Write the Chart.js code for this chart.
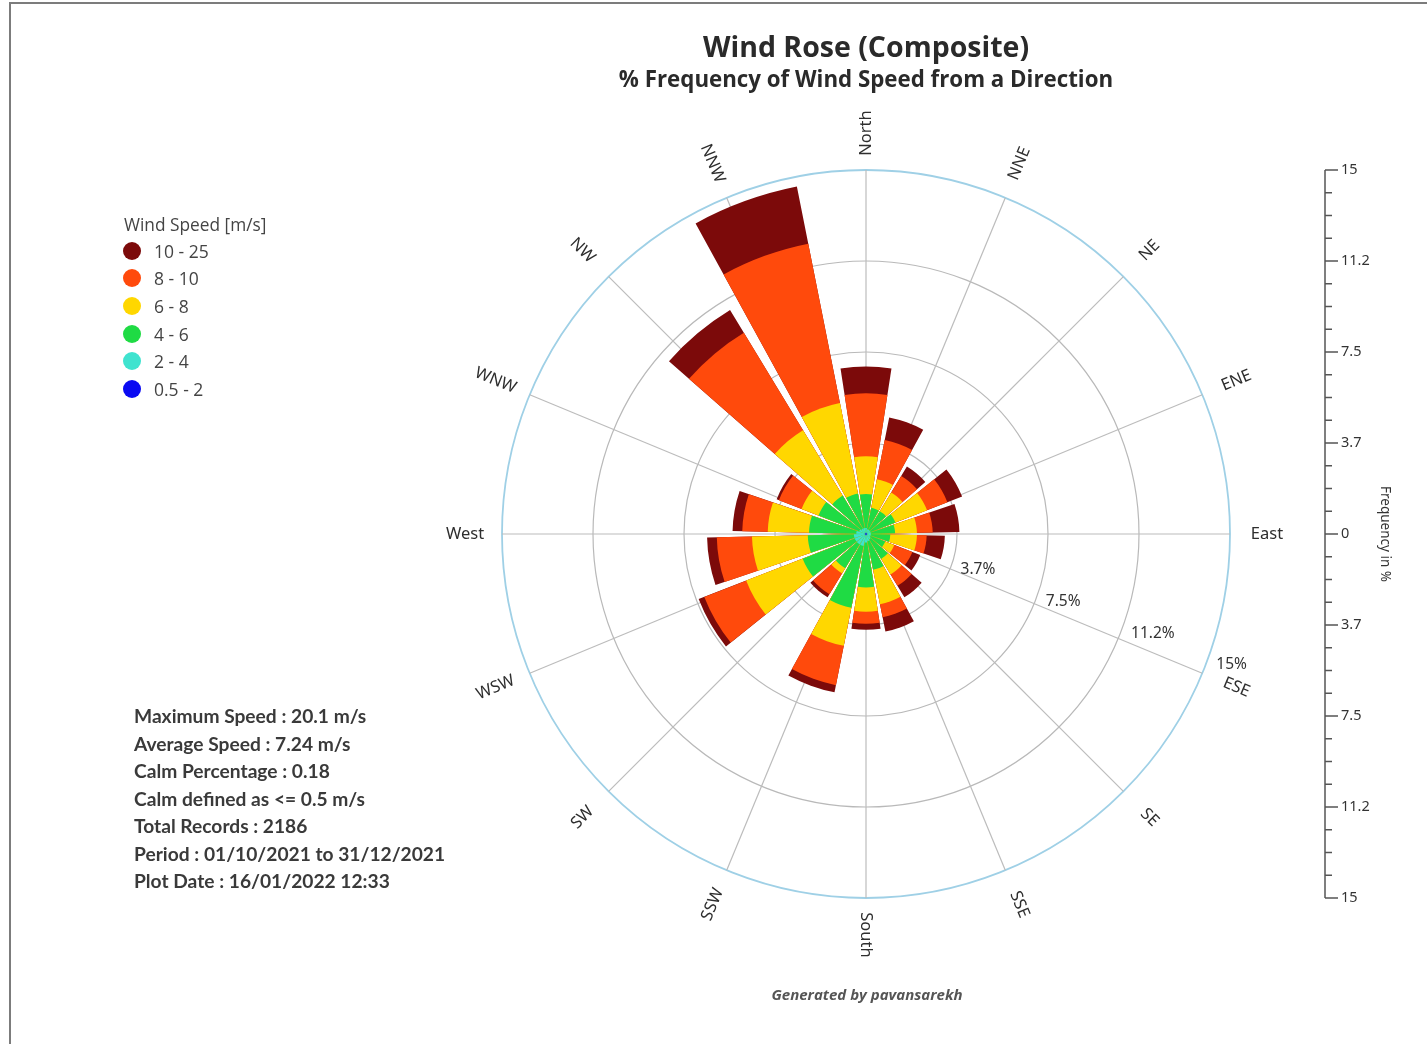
<!DOCTYPE html>
<html>
<head>
<meta charset="utf-8">
<script src="https://cdn.jsdelivr.net/npm/chart.js@4.4.1/dist/chart.umd.min.js"></script>
<style>
  html, body { margin: 0; padding: 0; background: #fff; }
  body { width: 1427px; height: 1044px; position: relative; overflow: hidden; }
  #frame { position: absolute; left: 9px; top: 2px; width: 1440px; height: 1100px;
           border-left: 2px solid #7c7c7c; border-top: 2px solid #7c7c7c; }
  #c { position: absolute; left: 0; top: 0; }
  .t1 { position: absolute; left: 366px; width: 1000px; text-align: center; top: 29px;
        font: 700 28.5px/34px 'Open Sans', sans-serif; color: #2a2a2a; }
  .t2 { position: absolute; left: 366px; width: 1000px; text-align: center; top: 65px;
        font: 700 22.3px/28px 'Open Sans', sans-serif; color: #2a2a2a; }
  #legend { position: absolute; left: 124px; top: 213px; font-family: 'Open Sans', sans-serif; color: #444; }
  #legend .lt { font-size: 17.3px; line-height: 24px; margin-bottom: 0px; }
  #legend .it { height: 27.6px; display: flex; align-items: center; font-size: 17.5px; }
  #legend .dot { width: 18px; height: 18px; border-radius: 50%; margin-right: 13px; margin-left: -1px; }
  #stats { position: absolute; left: 134px; top: 702px; font: 700 19.2px/27.5px 'Lato', sans-serif; color: #3a3a3a; }
  #foot { position: absolute; left: 617px; width: 500px; text-align: center; top: 984px;
          font: italic 700 15px/20px 'Open Sans', sans-serif; color: #555; }
</style>
</head>
<body>
<div id="frame"></div>
<canvas id="c" width="1427" height="1044"></canvas>
<div class="t1">Wind Rose (Composite)</div>
<div class="t2">% Frequency of Wind Speed from a Direction</div>
<div id="legend"></div>
<div id="stats"></div>
<div id="foot">Generated by pavansarekh</div>
<script>
// ---- data (percent frequency per direction sector and speed class) ----
const bearings = [0, 20, 40, 60, 80, 100, 120, 140, 160, 180, 200, 220, 240, 260, 280, 300, 320, 340];
const speedBins = ['0.5 - 2', '2 - 4', '4 - 6', '6 - 8', '8 - 10', '10 - 25'];
const binColors = ['#0a0af2', '#3fe3cf', '#1fdb44', '#ffd700', '#ff4a0c', '#7c0a0a'];
const freq_0_5_2 = [0.05, 0.05, 0.05, 0.05, 0.05, 0.05, 0.05, 0.05, 0.05, 0.05, 0.05, 0.05, 0.05, 0.05, 0.05, 0.05, 0.05, 0.05];
const freq_2_4   = [0.2, 0.15, 0.15, 0.15, 0.15, 0.15, 0.15, 0.2, 0.25, 0.3, 0.45, 0.45, 0.45, 0.45, 0.35, 0.25, 0.2, 0.2];
const freq_4_6   = [1.4, 0.9, 0.9, 1.1, 1.0, 0.8, 0.65, 0.95, 1.2, 1.85, 2.6, 1.15, 2.3, 1.9, 1.95, 1.8, 1.6, 1.45];
const freq_6_8   = [1.55, 1.2, 0.9, 1.4, 0.9, 1.1, 0.4, 0.75, 1.45, 1.0, 1.6, 0.25, 2.5, 2.3, 1.7, 0.75, 3.15, 3.8];
const freq_8_10  = [2.6, 1.65, 0.8, 0.9, 0.65, 0.4, 0.8, 0.55, 0.55, 0.5, 1.65, 1.0, 1.85, 1.45, 1.05, 1.0, 4.7, 6.7];
const freq_10_25 = [1.1, 0.95, 0.45, 0.65, 1.1, 0.75, 0.35, 0.55, 0.6, 0.25, 0.3, 0.15, 0.25, 0.4, 0.4, 0.1, 1.1, 2.4];
const directionLabels = ['North', 'NNE', 'NE', 'ENE', 'East', 'ESE', 'SE', 'SSE', 'South', 'SSW', 'SW', 'WSW', 'West', 'WNW', 'NW', 'NNW'];
const ringValues = [0, 3.75, 7.5, 11.25, 15];
const ringLabels = ['', '3.7%', '7.5%', '11.2%', '15%'];
const axisValues = [15, 11.25, 7.5, 3.75, 0, -3.75, -7.5, -11.25, -15];
const axisLabels = ['15', '11.2', '7.5', '3.7', '0', '3.7', '7.5', '11.2', '15'];
const statsLines = ['Maximum Speed : 20.1 m/s', 'Average Speed : 7.24 m/s', 'Calm Percentage : 0.18',
  'Calm defined as <= 0.5 m/s', 'Total Records : 2186', 'Period : 01/10/2021 to 31/12/2021', 'Plot Date : 16/01/2022 12:33'];

const series = [freq_0_5_2, freq_2_4, freq_4_6, freq_6_8, freq_8_10, freq_10_25];
const barAngle = 17.5, gapAngle = 2.5;

// legend + stats (text)
const lg = document.getElementById('legend');
lg.innerHTML = '<div class="lt">Wind Speed [m/s]</div>';
for (let k = speedBins.length - 1; k >= 0; k--) {
  lg.innerHTML += '<div class="it"><span class="dot" style="background:' + binColors[k] + '"></span>' + speedBins[k] + '</div>';
}
document.getElementById('stats').innerHTML = statsLines.map(s => s.replace(/</g, '&lt;')).join('<br>');

// cumulative (stacked) radii; each sector followed by a zero-width gap entry
const labels36 = [];
bearings.forEach(b => { labels36.push(b + '°'); labels36.push(''); });
const datasets = speedBins.map((name, k) => {
  const data = [];
  bearings.forEach((b, i) => {
    let cum = 0;
    for (let j = 0; j <= k; j++) cum += series[j][i];
    data.push(+cum.toFixed(3));
    data.push(0);
  });
  return {
    label: name, data: data, backgroundColor: binColors[k], borderWidth: 0,
    angle: ctx => (ctx.dataIndex % 2 === 0 ? barAngle : gapAngle)
  };
});

function pt(scale, bearingDeg, dist) {
  const a = bearingDeg * Math.PI / 180;
  return { x: scale.xCenter + dist * Math.sin(a), y: scale.yCenter - dist * Math.cos(a) };
}

const decor = {
  id: 'decor',
  beforeDatasetsDraw(chart) {
    const s = chart.scales.r, ctx = chart.ctx, R = s.getDistanceFromCenterForValue(15);
    ctx.save();
    ctx.strokeStyle = '#bcbcbc'; ctx.lineWidth = 1.2;
    directionLabels.forEach((l, i) => {
      const p = pt(s, i * 22.5, R);
      ctx.beginPath(); ctx.moveTo(s.xCenter, s.yCenter); ctx.lineTo(p.x, p.y); ctx.stroke();
    });
    ctx.restore();
  },
  afterDatasetsDraw(chart) {
    const s = chart.scales.r, ctx = chart.ctx, R = s.getDistanceFromCenterForValue(15);
    ctx.save();
    // direction labels, written along the radius
    ctx.fillStyle = '#2e2e2e'; ctx.font = '16.5px "Noto Sans"'; ctx.textAlign = 'center'; ctx.textBaseline = 'middle';
    directionLabels.forEach((l, i) => {
      const b = i * 22.5;
      const p = pt(s, b, R + 37);
      const rot = (b <= 180 ? b - 90 : b - 270) * Math.PI / 180;
      ctx.save(); ctx.translate(p.x, p.y); ctx.rotate(rot); ctx.fillText(l, 0, 0); ctx.restore();
    });
    // ring labels
    ctx.textAlign = 'left'; ctx.font = '15.5px "Noto Sans"'; ctx.fillStyle = '#333';
    ringValues.forEach((v, i) => {
      if (!ringLabels[i]) return;
      const p = pt(s, 110.5, s.getDistanceFromCenterForValue(v) + 10);
      ctx.fillText(ringLabels[i], p.x, p.y);
    });
    // right-hand frequency axis
    const ax = 1325;
    const yTop = s.yCenter - R, yBot = s.yCenter + R;
    ctx.strokeStyle = '#555'; ctx.lineWidth = 1.5;
    ctx.beginPath(); ctx.moveTo(ax, yTop); ctx.lineTo(ax, yBot); ctx.stroke();
    for (let q = -16; q <= 16; q++) {
      const d = s.getDistanceFromCenterForValue(Math.abs(q) * 15 / 16);
      const y = s.yCenter + (q < 0 ? -d : d);
      const len = (q % 4 === 0) ? 13 : 7;
      ctx.beginPath(); ctx.moveTo(ax, y); ctx.lineTo(ax + len, y); ctx.stroke();
    }
    ctx.fillStyle = '#333'; ctx.font = '14.5px "Noto Sans"'; ctx.textAlign = 'left';
    axisValues.forEach((v, i) => {
      const d = s.getDistanceFromCenterForValue(Math.abs(v));
      const y = s.yCenter + (v > 0 ? -d : d);
      ctx.fillText(axisLabels[i], ax + 16, y);
    });
    ctx.save(); ctx.translate(1385, s.yCenter); ctx.rotate(Math.PI / 2);
    ctx.textAlign = 'center'; ctx.font = '13.5px "Noto Sans"'; ctx.fillText('Frequency in %', 0, 0);
    ctx.restore();
    ctx.restore();
  }
};

new Chart(document.getElementById('c'), {
  type: 'polarArea',
  data: { labels: labels36, datasets: datasets },
  plugins: [decor],
  options: {
    responsive: false,
    animation: false,
    layout: { padding: { left: 502, top: 170, right: 197, bottom: 146 } },
    plugins: { legend: { display: false }, tooltip: { enabled: false } },
    scales: {
      r: {
        min: 0, max: 15,
        startAngle: -barAngle / 2,
        ticks: { display: false },
        afterBuildTicks: sc => { sc.ticks = ringValues.map(v => ({ value: v })); },
        grid: {
          circular: true,
          color: c => (c.tick && c.tick.value >= 15 ? '#9fd0e6' : '#b9b9b9'),
          lineWidth: c => (c.tick && c.tick.value >= 15 ? 1.8 : 1.2)
        },
        angleLines: { display: false },
        pointLabels: { display: false }
      }
    }
  }
});
</script>
</body>
</html>
